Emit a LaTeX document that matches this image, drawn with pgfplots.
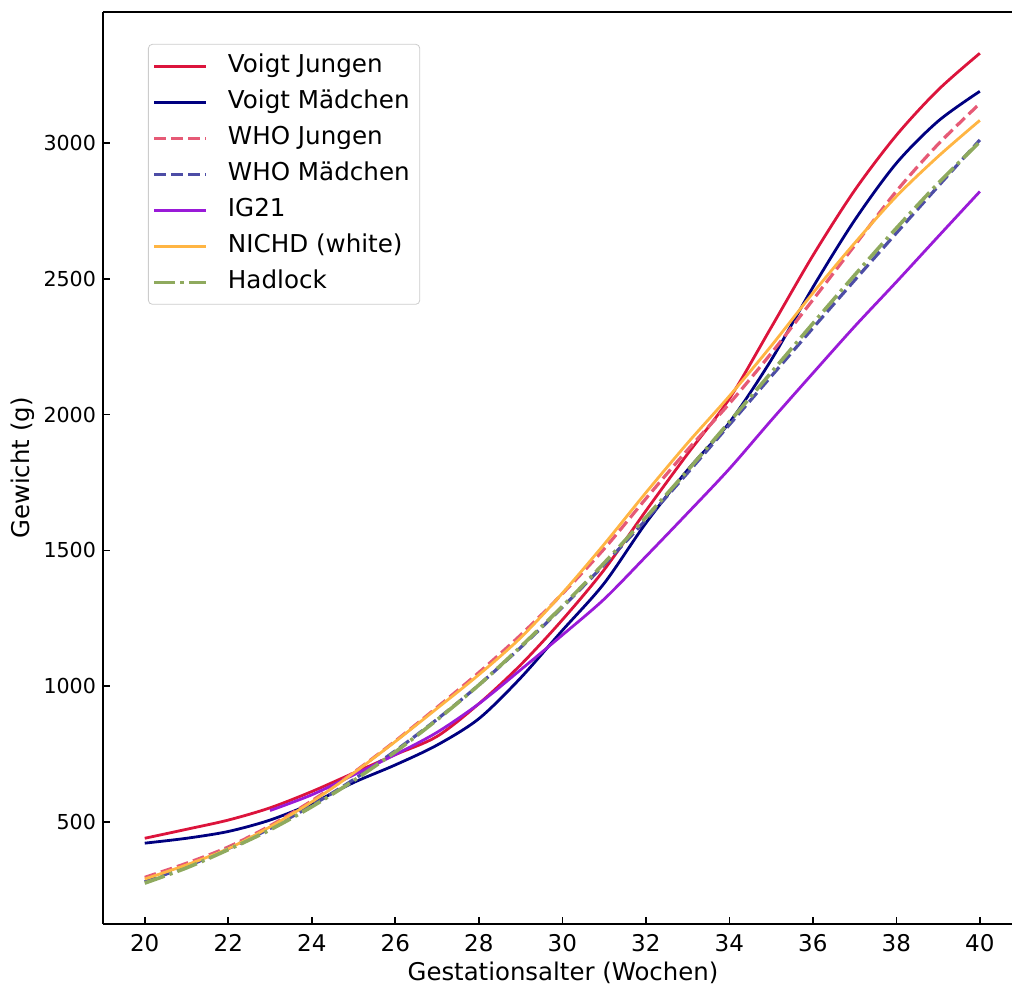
\documentclass[border=0pt]{standalone}
\usepackage{fontspec}
\setmainfont{DejaVu Sans}
\usepackage{pgfplots}
\pgfplotsset{compat=1.18}
\definecolor{vj}{HTML}{DC143C}
\definecolor{vm}{HTML}{000080}
\definecolor{whoj}{HTML}{E65A76}
\definecolor{whom}{HTML}{4D4DA6}
\definecolor{ig}{HTML}{9A1AD8}
\definecolor{nichd}{HTML}{FFB543}
\definecolor{had}{HTML}{8FAA5E}
\begin{document}
\begin{tikzpicture}
\begin{axis}[
  scale only axis, width=454.5pt, height=456pt,
  xmin=19, xmax=40.77, ymin=124.4, ymax=3482,
  axis x line=box, axis y line=left,
  axis line style={line width=0.8pt,-},
  xtick={20,22,...,40}, ytick={500,1000,...,3000},
  tick align=inside, tick pos=left, major tick length=3.5pt,
  every tick/.style={black, line width=0.8pt},
  /pgf/number format/assume math mode=true,
  /pgf/number format/1000 sep={},
  xticklabel style={font=\fontsize{11.5}{13}\selectfont, yshift=-1.5pt},
  yticklabel style={font=\fontsize{10.3}{12}\selectfont},
  xlabel={Gestationsalter (Wochen)}, ylabel={Gewicht (g)},
  label style={font=\fontsize{12.2}{14}\selectfont},
  xlabel style={at={(axis description cs:0.506,-0.0537)}, anchor=center},
  ylabel style={at={(axis description cs:-0.088,0.5)}, anchor=center},
  legend cell align=left,
  legend image code/.code={\draw[#1] (2pt,0pt) -- (28pt,0pt);},
  legend style={at={(axis description cs:0.0495,0.965)}, anchor=north west,
    draw=black!20, rounded corners=2pt, fill=white,
    font=\fontsize{12.3}{14}\selectfont, inner sep=2pt, row sep=0pt, column sep=7pt,
    nodes={inner sep=3pt, text height=9pt, text depth=3pt, anchor=west}},
]
\addplot[vj, line width=1.4pt, smooth] coordinates {(20,440) (21,473) (22,507) (23,552) (24,612) (25,680) (26,748) (27,815) (28,935) (29,1078) (30,1244) (31,1428) (32,1645) (33,1855) (34,2058) (35,2320) (36,2585) (37,2825) (38,3028) (39,3195) (40,3330)};
\addlegendentry{Voigt Jungen}
\addplot[vm, line width=1.4pt, smooth] coordinates {(20,422) (21,440) (22,465) (23,507) (24,568) (25,645) (26,710) (27,783) (28,880) (29,1030) (30,1205) (31,1378) (32,1600) (33,1796) (34,1970) (35,2200) (36,2468) (37,2715) (38,2925) (39,3080) (40,3190)};
\addlegendentry{Voigt Mädchen}
\addplot[whoj, line width=1.6pt, dash pattern=on 5.9pt off 2.6pt, smooth] coordinates {(20,296) (21,348) (22,408) (23,486) (24,578) (25,682) (26,798) (27,922) (28,1050) (29,1188) (30,1340) (31,1505) (32,1690) (33,1870) (34,2040) (35,2225) (36,2422) (37,2622) (38,2822) (39,2995) (40,3145)};
\addlegendentry{WHO Jungen}
\addplot[whom, line width=1.6pt, dash pattern=on 5.9pt off 2.6pt, smooth] coordinates {(20,280) (21,336) (22,402) (23,476) (24,561) (25,656) (26,762) (27,878) (28,1004) (29,1142) (30,1290) (31,1447) (32,1612) (33,1785) (34,1962) (35,2140) (36,2318) (37,2494) (38,2668) (39,2840) (40,3011)};
\addlegendentry{WHO Mädchen}
\addplot[ig, line width=1.4pt, smooth] coordinates {(23,542) (24,600) (25,673) (26,748) (27,830) (28,935) (29,1060) (30,1188) (31,1320) (32,1477) (33,1637) (34,1800) (35,1978) (36,2152) (37,2324) (38,2488) (39,2655) (40,2821)};
\addlegendentry{IG21}
\addplot[nichd, line width=1.4pt, smooth] coordinates {(20,290) (21,342) (22,402) (23,482) (24,574) (25,680) (26,796) (27,918) (28,1042) (29,1178) (30,1342) (31,1522) (32,1712) (33,1895) (34,2068) (35,2252) (36,2447) (37,2631) (38,2803) (39,2950) (40,3083)};
\addlegendentry{NICHD (white)}
\addplot[had, line width=1.8pt, dash pattern=on 10.5pt off 2.6pt on 1.6pt off 2.6pt, smooth] coordinates {(20,275) (21,331) (22,398) (23,471) (24,556) (25,652) (26,758) (27,876) (28,1004) (29,1145) (30,1294) (31,1453) (32,1621) (33,1794) (34,1973) (35,2154) (36,2335) (37,2513) (38,2686) (39,2851) (40,3004)};
\addlegendentry{Hadlock}
\end{axis}
\pgfresetboundingbox
\path[use as bounding box] ([xshift=-51.5pt,yshift=-30pt]current axis.south west) rectangle ++(506pt,492pt);
\end{tikzpicture}
\end{document}
